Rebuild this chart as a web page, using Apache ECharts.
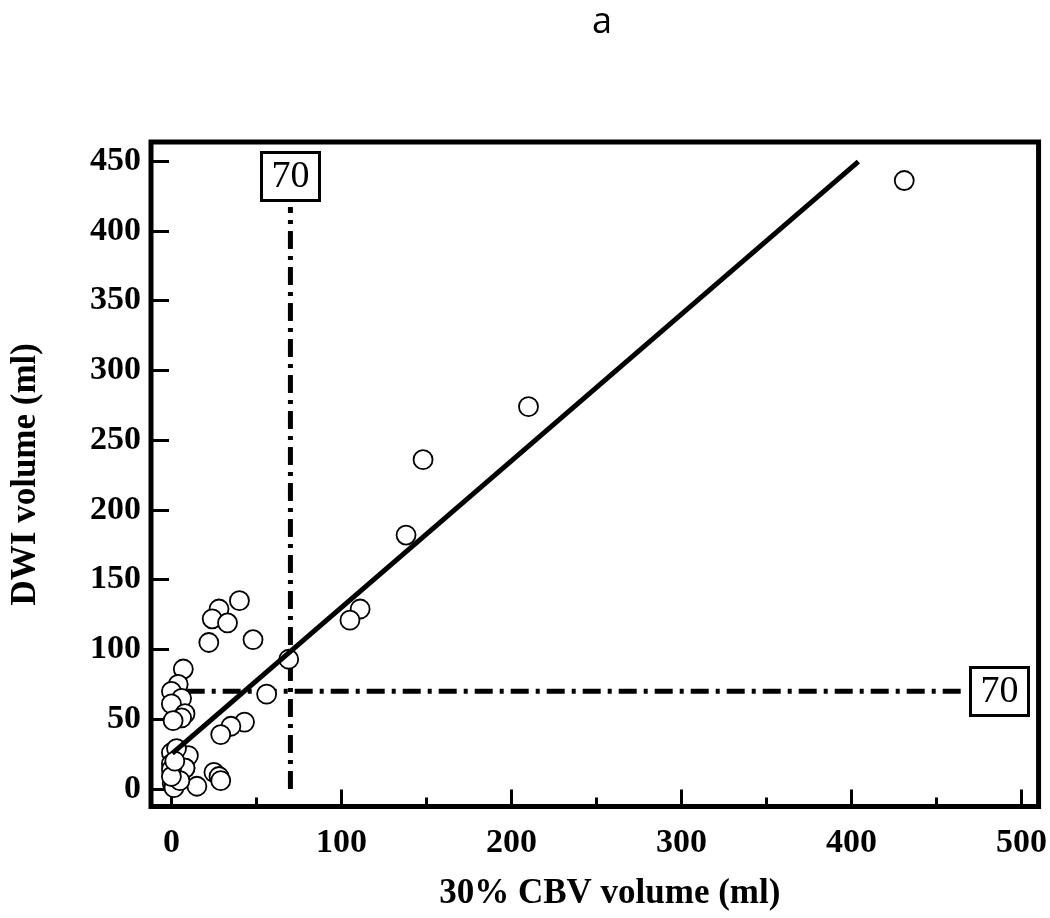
<!DOCTYPE html>
<html>
<head>
<meta charset="utf-8">
<script src="https://cdn.jsdelivr.net/npm/echarts@6/dist/echarts.min.js"></script>
<style>
html,body{margin:0;padding:0;background:#fff;}
#chart{width:1050px;height:918px;}
</style>
</head>
<body>
<div id="chart"></div>
<script>
// Scatter data: 30% CBV volume (x) vs DWI volume (y)
const cbvVolume = [431, 210, 148, 138, 111, 105, 69, 56, 48, 40, 28, 24, 33, 22, 43, 35, 29, 10, 8, 25, 28, 29, 15, 7, 4, 0, 6, 0, 8, 6, 1, 0, 3, 0, 8, 0, 0.5, 1.5, 5, 0, 2];
const dwiVolume = [436, 274, 236, 182, 129, 121, 93, 68, 107, 135, 129, 122, 119, 105, 48, 45, 39, 24, 15, 12, 9, 6, 2, 86, 75, 70, 65, 61, 54, 51, 49, 26, 29, 18, 15, 14, 4, 1, 6, 9, 20];
// Regression line end points
const fitX = [0.5, 404];
const fitY = [25.6, 449.5];
// Threshold lines at 70 ml
const thresholdVX = [70, 70];
const thresholdVY = [0, 417];
const thresholdHX = [9, 468];
const thresholdHY = [70, 70];
// Boxed threshold labels
const boxX = [70, 487];
const boxY = [439, 70];
const boxText = ['70', '70'];
// Tick values
const xMajorTicks = [0, 100, 200, 300, 400, 500];
const xMinorTicks = [50, 150, 250, 350, 450];
const yTicks = [0, 50, 100, 150, 200, 250, 300, 350, 400, 450];

const zip = (a, b) => a.map((v, i) => [v, b[i]]);
const serif = '"Liberation Serif", "Times New Roman", serif';
const dash = [18, 7, 4, 7];

const chart = echarts.init(document.getElementById('chart'));
chart.setOption({
  animation: false,
  backgroundColor: '#fff',
  title: {
    text: 'a', top: 0, left: 587,
    textStyle: { fontFamily: '"Open Sans", sans-serif', fontWeight: 'normal', fontSize: 36, color: '#000' }
  },
  grid: {
    left: 147.5, right: 10.5, top: 142, bottom: 111.5,
    show: true, borderColor: '#000', borderWidth: 5, backgroundColor: 'transparent'
  },
  xAxis: [{
    type: 'value', min: -12, max: 510,
    name: '30% CBV volume (ml)', nameLocation: 'middle', nameGap: 70,
    nameTextStyle: { fontFamily: serif, fontWeight: 'bold', fontSize: 35, color: '#000', padding: [0, 0, 0, 30] },
    axisLine: { show: false, onZero: false },
    splitLine: { show: false },
    axisTick: { show: true, inside: true, length: 17, customValues: xMajorTicks, lineStyle: { color: '#000', width: 3 } },
    axisLabel: { show: true, customValues: xMajorTicks, margin: 20, fontFamily: serif, fontWeight: 'bold', fontSize: 34, color: '#000' }
  }, {
    type: 'value', min: -12, max: 510, position: 'bottom',
    axisLine: { show: false, onZero: false }, splitLine: { show: false },
    axisTick: { show: true, inside: true, length: 9, customValues: xMinorTicks, lineStyle: { color: '#000', width: 3 } },
    axisLabel: { show: false }
  }],
  yAxis: {
    type: 'value', min: -12.5, max: 463.6,
    name: 'DWI volume (ml)', nameLocation: 'middle', nameGap: 108, nameRotate: 90,
    nameTextStyle: { fontFamily: serif, fontWeight: 'bold', fontSize: 35, color: '#000' },
    axisLine: { show: false, onZero: false },
    splitLine: { show: false },
    axisTick: { show: true, inside: true, length: 18, customValues: yTicks, lineStyle: { color: '#000', width: 3 } },
    axisLabel: { show: true, customValues: yTicks, margin: 10, fontFamily: serif, fontWeight: 'bold', fontSize: 34, color: '#000' }
  },
  series: [{
    type: 'line', z: 1, symbol: 'none', data: zip(thresholdVX, thresholdVY),
    lineStyle: { color: '#000', width: 5, type: dash, cap: 'butt' }
  }, {
    type: 'line', z: 1, symbol: 'none', data: zip(thresholdHX, thresholdHY),
    lineStyle: { color: '#000', width: 5, type: dash, cap: 'butt' }
  }, {
    type: 'scatter', z: 2, symbol: 'circle', symbolSize: 19,
    data: zip(cbvVolume, dwiVolume),
    itemStyle: { color: '#fff', borderColor: '#000', borderWidth: 1.8, opacity: 1 }
  }, {
    type: 'line', z: 3, symbol: 'none', data: zip(fitX, fitY),
    lineStyle: { color: '#000', width: 5 }
  }, {
    type: 'custom', z: 4,
    data: boxX.map((x, i) => [x, boxY[i], boxText[i]]),
    renderItem: function (params, api) {
      const c = api.coord([api.value(0), api.value(1)]);
      const w = 58, h = 48;
      const txt = boxText[params.dataIndex];
      return {
        type: 'group',
        children: [{
          type: 'rect',
          shape: { x: Math.round(c[0] - w / 2) + 0.5, y: Math.round(c[1] - h / 2) + 0.5, width: w, height: h },
          style: { fill: '#fff', stroke: '#000', lineWidth: 3 }
        }, {
          type: 'text',
          x: c[0], y: c[1] + 1,
          style: { text: txt, fill: '#000', font: '38px "Liberation Serif", serif', align: 'center', verticalAlign: 'middle' }
        }]
      };
    }
  }]
});
</script>
</body>
</html>
